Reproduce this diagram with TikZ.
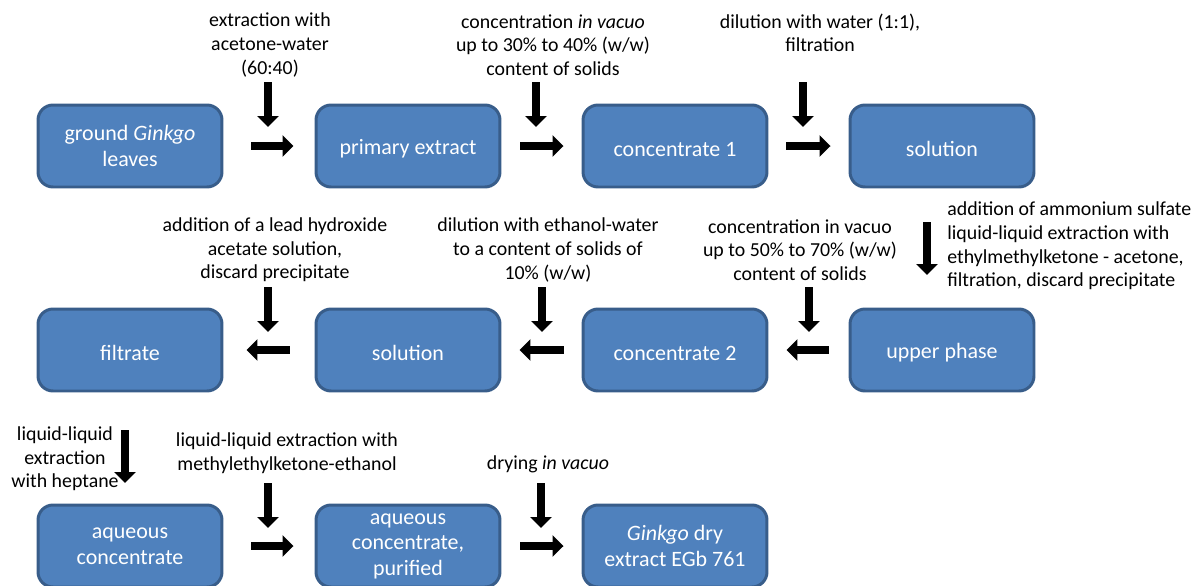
\documentclass[tikz,border=0pt]{standalone}
\usepackage{fontspec}
\setmainfont{Carlito}
\usetikzlibrary{arrows.meta}
\definecolor{boxfill}{RGB}{79,129,189}
\definecolor{boxline}{RGB}{56,93,138}

\begin{document}
\begin{tikzpicture}[x=0.02cm,y=-0.02cm,
  stage/.style={draw=boxline,fill=boxfill,line width=1.7pt,rounded corners=0.3cm,minimum width=3.68cm,minimum height=1.64cm,inner sep=0pt,align=center,text=white,font=\fontsize{12.5}{14.5}\selectfont,execute at begin node={\rule{0pt}{12pt}}},
  note/.style={align=center,inner sep=0pt,font=\fontsize{11.3}{13.4}\selectfont},
  flow/.style={line width=0.17cm,-{Triangle[length=0.22cm,width=0.42cm]}}]
\useasboundingbox (0,0) rectangle (1200,585);

\node[stage] (b1) at (130,146) {ground \textit{Ginkgo}\\leaves};
\node[stage] (b2) at (408,146) {primary extract};
\node[stage] (b3) at (675,146) {concentrate 1};
\node[stage] (b4) at (942,146) {solution};
\node[stage] (c1) at (130,350) {filtrate};
\node[stage] (c2) at (408,350) {solution};
\node[stage] (c3) at (675,350) {concentrate 2};
\node[stage] (c4) at (942,350) {upper phase};
\node[stage] (d1) at (130,546) {aqueous\\concentrate};
\node[stage] (d2) at (408,546) {aqueous\\concentrate,\\purified};
\node[stage] (d3) at (675,546) {\textit{Ginkgo} dry\\extract EGb 761};

\node[note] (l1) at (270,45) {extraction with\\acetone-water\\(60:40)};
\node[note] (l2) at (553,45) {concentration \textit{in vacuo}\\up to 30\% to 40\% (w/w)\\content of solids};
\node[note] (l3) at (820,33) {dilution with water (1:1),\\filtration};
\node[note] (l4) at (275,250) {addition of a lead hydroxide\\acetate solution,\\discard precipitate};
\node[note] (l5) at (548,250) {dilution with ethanol-water\\to a content of solids of\\10\% (w/w)};
\node[note] (l6) at (800,250) {concentration in vacuo\\up to 50\% to 70\% (w/w)\\content of solids};
\node[note,anchor=west,align=left] (l7) at (947,246) {addition of ammonium sulfate\\liquid-liquid extraction with\\ethylmethylketone - acetone,\\filtration, discard precipitate};
\node[note] (l8) at (65,459) {liquid-liquid\\extraction\\with heptane};
\node[note] (l9) at (287,453) {liquid-liquid extraction with\\methylethylketone-ethanol};
\node[note] (l10) at (548,464) {drying \textit{in vacuo}};

\coordinate (t1) at (268,82);
\coordinate (t2) at (536,82);
\coordinate (t3) at (803,82);
\coordinate (t4) at (268,287);
\coordinate (t5) at (542,287);
\coordinate (t6) at (809,287);
\coordinate (t7) at (927,222);
\coordinate (t8) at (125,430);
\coordinate (t9) at (268,483);
\coordinate (t10) at (541,483);
\draw[flow] (t1) -- ++(0,45);
\draw[flow] (t2) -- ++(0,45);
\draw[flow] (t3) -- ++(0,45);
\draw[flow] (t4) -- ++(0,45);
\draw[flow] (t5) -- ++(0,45);
\draw[flow] (t6) -- ++(0,45);
\draw[flow] (t7) -- ++(0,53);
\draw[flow] (t8) -- ++(0,53);
\draw[flow] (t9) -- ++(0,45);
\draw[flow] (t10) -- ++(0,45);

\draw[flow,shorten <=0.56cm,shorten >=0.42cm] (b1.east) -- (b2.west);
\draw[flow,shorten <=0.38cm,shorten >=0.36cm] (b2.east) -- (b3.west);
\draw[flow,shorten <=0.36cm,shorten >=0.36cm] (b3.east) -- (b4.west);
\draw[flow,shorten <=0.40cm,shorten >=0.36cm] (c4.west) -- (c3.east);
\draw[flow,shorten <=0.36cm,shorten >=0.36cm] (c3.west) -- (c2.east);
\draw[flow,shorten <=0.50cm,shorten >=0.46cm] (c2.west) -- (c1.east);
\draw[flow,shorten <=0.56cm,shorten >=0.42cm] (d1.east) -- (d2.west);
\draw[flow,shorten <=0.38cm,shorten >=0.36cm] (d2.east) -- (d3.west);
\end{tikzpicture}
\end{document}
